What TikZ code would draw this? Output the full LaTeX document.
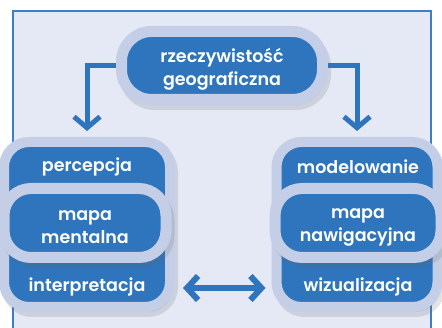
\documentclass[tikz,border=0pt]{standalone}
\usepackage{fontspec}
\setmainfont{Poppins}[BoldFont={Poppins SemiBold}]
\usetikzlibrary{arrows.meta,shadows}

\definecolor{mapblue}{RGB}{46,117,189}
\definecolor{ringblue}{RGB}{196,207,231}
\definecolor{panelblue}{RGB}{228,233,245}
\definecolor{edgeblue}{RGB}{61,126,196}

\begin{document}
\begin{tikzpicture}[x=1pt,y=-1pt]
\tikzstyle{every node}=[font=\fontsize{17.5pt}{23pt}\selectfont\bfseries, text=white, align=center]
\tikzstyle{box}=[draw=ringblue, fill=mapblue, line width=11pt, rounded corners=30pt, inner sep=0pt]
\tikzstyle{grp}=[box, line width=10pt, rounded corners=25pt]
\tikzstyle{shade}=[drop shadow={opacity=0.18, shadow xshift=3pt, shadow yshift=-5pt, draw=black!60}]
\tikzstyle{arr}=[draw=mapblue, line width=5pt, -{Straight Barb[length=11pt,width=26pt]}]
\tikzstyle{dblarr}=[draw=mapblue, line width=6pt, {Straight Barb[length=11pt,width=24pt]}-{Straight Barb[length=11pt,width=24pt]}]
\useasboundingbox (0,0) rectangle (442,328);
\clip (0,0) rectangle (442,328);
\fill [white] (0,0) rectangle (442,328);
\draw [fill=panelblue, draw=edgeblue, line width=1.2pt] (13,11) rectangle (431,345);
\node [box, shade, minimum width=201pt, minimum height=68pt] (top) at (222,65.5) {};
\node (toptxt) at (222,69.5) {rzeczywistość\\geograficzna};
\node [grp, shade, minimum width=166pt, minimum height=165pt] (lgrp) at (87,224.5) {};
\node [grp, shade, minimum width=161pt, minimum height=165pt] (rgrp) at (357,224.5) {};
\node [box, rounded corners=27pt, shade, minimum width=162pt, minimum height=69pt] (mental) at (85,223) {};
\node [box, rounded corners=27pt, shade, minimum width=166pt, minimum height=69pt] (nawig) at (358,223) {};
\node (mentaltxt) at (85,227.5) {mapa\\mentalna};
\node (nawigtxt) at (358,227.5) {mapa\\nawigacyjna};
\node (perc) at (87,167) {percepcja};
\node (interp) at (87,287) {interpretacja};
\node (model) at (358,167) {modelowanie};
\node (wizual) at (358,287) {wizualizacja};
\coordinate (mid) at (223,288);
\draw [arr, shorten >=6pt] (top.west) -| (lgrp.north);
\draw [arr, shorten >=6pt] (top.east) -| (rgrp.north);
\draw [dblarr, shorten <=8pt, shorten >=6pt] (lgrp.east |- mid) -- (rgrp.west |- mid);
\end{tikzpicture}
\end{document}
